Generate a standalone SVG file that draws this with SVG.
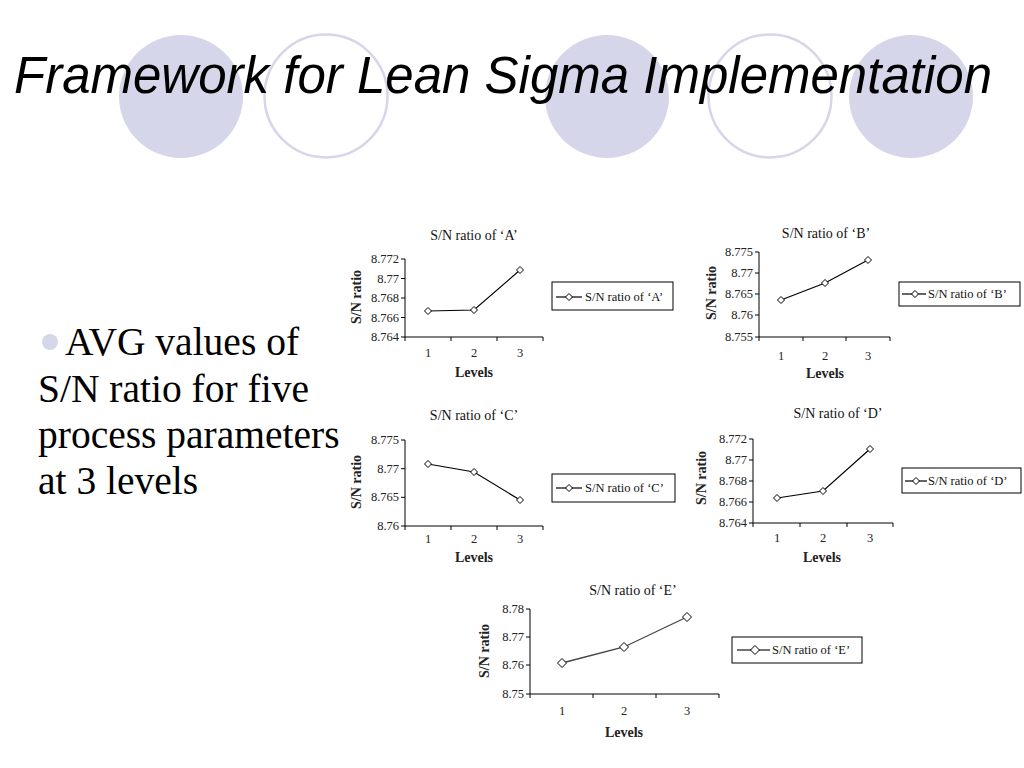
<svg xmlns="http://www.w3.org/2000/svg" width="1024" height="768" viewBox="0 0 1024 768">
<defs>
<style>
.bgc{fill:#d6d6eb}
.bgo{fill:none;stroke:#d6d6eb;stroke-width:2.5}
.title{font-family:"Liberation Sans",Arial,sans-serif;font-style:italic;font-size:51px;fill:#000}
.body{font-family:"Liberation Serif","Times New Roman",serif;font-size:39.5px;fill:#000}
.ax{stroke:#000;stroke-width:1;fill:none}
.ln{stroke:#000;stroke-width:1.2;fill:none}
.lnE{stroke:#444;stroke-width:1.3;fill:none}
.mk{fill:#fff;stroke:#000;stroke-width:1}
.ctitle{font-family:"Liberation Serif","Times New Roman",serif;font-size:14px;fill:#111;text-anchor:middle}
.tk{font-family:"Liberation Serif","Times New Roman",serif;font-size:12.5px;fill:#222;text-anchor:end}
.cat{font-family:"Liberation Serif","Times New Roman",serif;font-size:12.5px;fill:#222;text-anchor:middle}
.xl{font-family:"Liberation Serif","Times New Roman",serif;font-size:14px;font-weight:bold;fill:#222;text-anchor:middle}
.yl{font-family:"Liberation Serif","Times New Roman",serif;font-size:14px;font-weight:bold;fill:#222;text-anchor:middle}
.lg{font-family:"Liberation Serif","Times New Roman",serif;font-size:12.5px;fill:#111}
.box{fill:#fff;stroke:#000;stroke-width:1}
</style>
<path id="dm" d="M0,-3.5 L3.5,0 L0,3.5 L-3.5,0 Z"/>
<path id="dmE" d="M0,-4.5 L4.5,0 L0,4.5 L-4.5,0 Z"/>
</defs>
<rect width="1024" height="768" fill="#fff"/>
<g id="decor">
<ellipse class="bgc" cx="181" cy="96.5" rx="62" ry="61.5"/>
<ellipse class="bgo" cx="326" cy="96" rx="61.5" ry="61.5"/>
<ellipse class="bgc" cx="607" cy="96.5" rx="62" ry="61.5"/>
<ellipse class="bgo" cx="770" cy="96" rx="61.5" ry="61.5"/>
<ellipse class="bgc" cx="911" cy="96.5" rx="62" ry="61.5"/>
</g>
<text id="title" class="title" x="14" y="93" textLength="978" lengthAdjust="spacingAndGlyphs">Framework for Lean Sigma Implementation</text>
<g id="bullet">
<circle class="bgc" cx="50" cy="342" r="8"/>
<text class="body" x="65" y="355">AVG values of</text>
<text class="body" x="38" y="402">S/N ratio for five</text>
<text class="body" x="38" y="448">process parameters</text>
<text class="body" x="38" y="494">at 3 levels</text>
</g>

<g id="chartA">
<text class="ctitle" x="474" y="240">S/N ratio of ‘A’</text>
<path class="ax" d="M405,259V337H543M401,259H405M401,278.5H405M401,298H405M401,317.5H405M401,337H405M405,337V341M451,337V341M497,337V341M543,337V341"/>
<text class="tk" x="399" y="263">8.772</text>
<text class="tk" x="399" y="282.5">8.77</text>
<text class="tk" x="399" y="302">8.768</text>
<text class="tk" x="399" y="321.5">8.766</text>
<text class="tk" x="399" y="341">8.764</text>
<text class="cat" x="428" y="357">1</text>
<text class="cat" x="474" y="357">2</text>
<text class="cat" x="520" y="357">3</text>
<text class="xl" x="474" y="377">Levels</text>
<text class="yl" transform="translate(361,297) rotate(-90)">S/N ratio</text>
<polyline class="ln" points="428,311 474,310 520,270"/>
<use href="#dm" class="mk" x="428" y="311"/>
<use href="#dm" class="mk" x="474" y="310"/>
<use href="#dm" class="mk" x="520" y="270"/>
<rect class="box" x="552" y="282" width="121" height="28"/>
<line class="ln" x1="556" y1="297" x2="582" y2="297"/>
<use href="#dm" class="mk" x="569" y="297"/>
<text class="lg" x="585" y="301">S/N ratio of ‘A’</text>
</g>

<g id="chartB">
<text class="ctitle" x="826" y="238">S/N ratio of ‘B’</text>
<path class="ax" d="M759,252V337H890M755,252H759M755,273H759M755,294H759M755,315H759M755,337H759M759,337V341M803,337V341M846,337V341M890,337V341"/>
<text class="tk" x="753" y="256">8.775</text>
<text class="tk" x="753" y="277">8.77</text>
<text class="tk" x="753" y="298">8.765</text>
<text class="tk" x="753" y="319">8.76</text>
<text class="tk" x="753" y="341">8.755</text>
<text class="cat" x="781" y="360">1</text>
<text class="cat" x="825" y="360">2</text>
<text class="cat" x="868" y="360">3</text>
<text class="xl" x="825" y="378">Levels</text>
<text class="yl" transform="translate(716,293) rotate(-90)">S/N ratio</text>
<polyline class="ln" points="781,300 825,283 868,260"/>
<use href="#dm" class="mk" x="781" y="300"/>
<use href="#dm" class="mk" x="825" y="283"/>
<use href="#dm" class="mk" x="868" y="260"/>
<rect class="box" x="899" y="282" width="121" height="24"/>
<line class="ln" x1="902" y1="294" x2="926" y2="294"/>
<use href="#dm" class="mk" x="915" y="294"/>
<text class="lg" x="928" y="298">S/N ratio of ‘B’</text>
</g>

<g id="chartC">
<text class="ctitle" x="474" y="420">S/N ratio of ‘C’</text>
<path class="ax" d="M405,440V526H543M401,440H405M401,468.7H405M401,497.3H405M401,526H405M405,526V530M451,526V530M497,526V530M543,526V530"/>
<text class="tk" x="399" y="444">8.775</text>
<text class="tk" x="399" y="472.7">8.77</text>
<text class="tk" x="399" y="501.3">8.765</text>
<text class="tk" x="399" y="530">8.76</text>
<text class="cat" x="428" y="543">1</text>
<text class="cat" x="474" y="543">2</text>
<text class="cat" x="520" y="543">3</text>
<text class="xl" x="474" y="562">Levels</text>
<text class="yl" transform="translate(361,482) rotate(-90)">S/N ratio</text>
<polyline class="ln" points="428,464 474,472 520,500"/>
<use href="#dm" class="mk" x="428" y="464"/>
<use href="#dm" class="mk" x="474" y="472"/>
<use href="#dm" class="mk" x="520" y="500"/>
<rect class="box" x="552" y="474" width="123" height="28"/>
<line class="ln" x1="556" y1="488" x2="582" y2="488"/>
<use href="#dm" class="mk" x="569" y="488"/>
<text class="lg" x="585" y="492">S/N ratio of ‘C’</text>
</g>

<g id="chartD">
<text class="ctitle" x="838" y="418">S/N ratio of ‘D’</text>
<path class="ax" d="M753,439V523H893M749,439H753M749,460H753M749,481H753M749,502H753M749,523H753M753,523V527M800,523V527M847,523V527M893,523V527"/>
<text class="tk" x="747" y="443">8.772</text>
<text class="tk" x="747" y="464">8.77</text>
<text class="tk" x="747" y="485">8.768</text>
<text class="tk" x="747" y="506">8.766</text>
<text class="tk" x="747" y="527">8.764</text>
<text class="cat" x="777" y="542">1</text>
<text class="cat" x="823" y="542">2</text>
<text class="cat" x="870" y="542">3</text>
<text class="xl" x="822" y="562">Levels</text>
<text class="yl" transform="translate(706,478) rotate(-90)">S/N ratio</text>
<polyline class="ln" points="777,498 823,491 870,449"/>
<use href="#dm" class="mk" x="777" y="498"/>
<use href="#dm" class="mk" x="823" y="491"/>
<use href="#dm" class="mk" x="870" y="449"/>
<rect class="box" x="902" y="468" width="119" height="25"/>
<line class="ln" x1="905" y1="481" x2="927" y2="481"/>
<use href="#dm" class="mk" x="916" y="481"/>
<text class="lg" x="928" y="485">S/N ratio of ‘D’</text>
</g>

<g id="chartE">
<text class="ctitle" x="633" y="595">S/N ratio of ‘E’</text>
<path class="ax" d="M530,609V694H719M526,609H530M526,637H530M526,665H530M526,694H530M530,694V698M593,694V698M656,694V698M719,694V698"/>
<text class="tk" x="524" y="613">8.78</text>
<text class="tk" x="524" y="641">8.77</text>
<text class="tk" x="524" y="669">8.76</text>
<text class="tk" x="524" y="698">8.75</text>
<text class="cat" x="562" y="715">1</text>
<text class="cat" x="624" y="715">2</text>
<text class="cat" x="687" y="715">3</text>
<text class="xl" x="624" y="737">Levels</text>
<text class="yl" transform="translate(489,651) rotate(-90)">S/N ratio</text>
<polyline class="lnE" points="562,663 624,647 687,617"/>
<use href="#dmE" class="mk" x="562" y="663"/>
<use href="#dmE" class="mk" x="624" y="647"/>
<use href="#dmE" class="mk" x="687" y="617"/>
<rect class="box" x="732" y="637" width="130" height="26"/>
<line class="lnE" x1="737" y1="650" x2="770" y2="650"/>
<use href="#dmE" class="mk" x="755" y="650"/>
<text class="lg" x="772" y="654">S/N ratio of ‘E’</text>
</g>
</svg>
